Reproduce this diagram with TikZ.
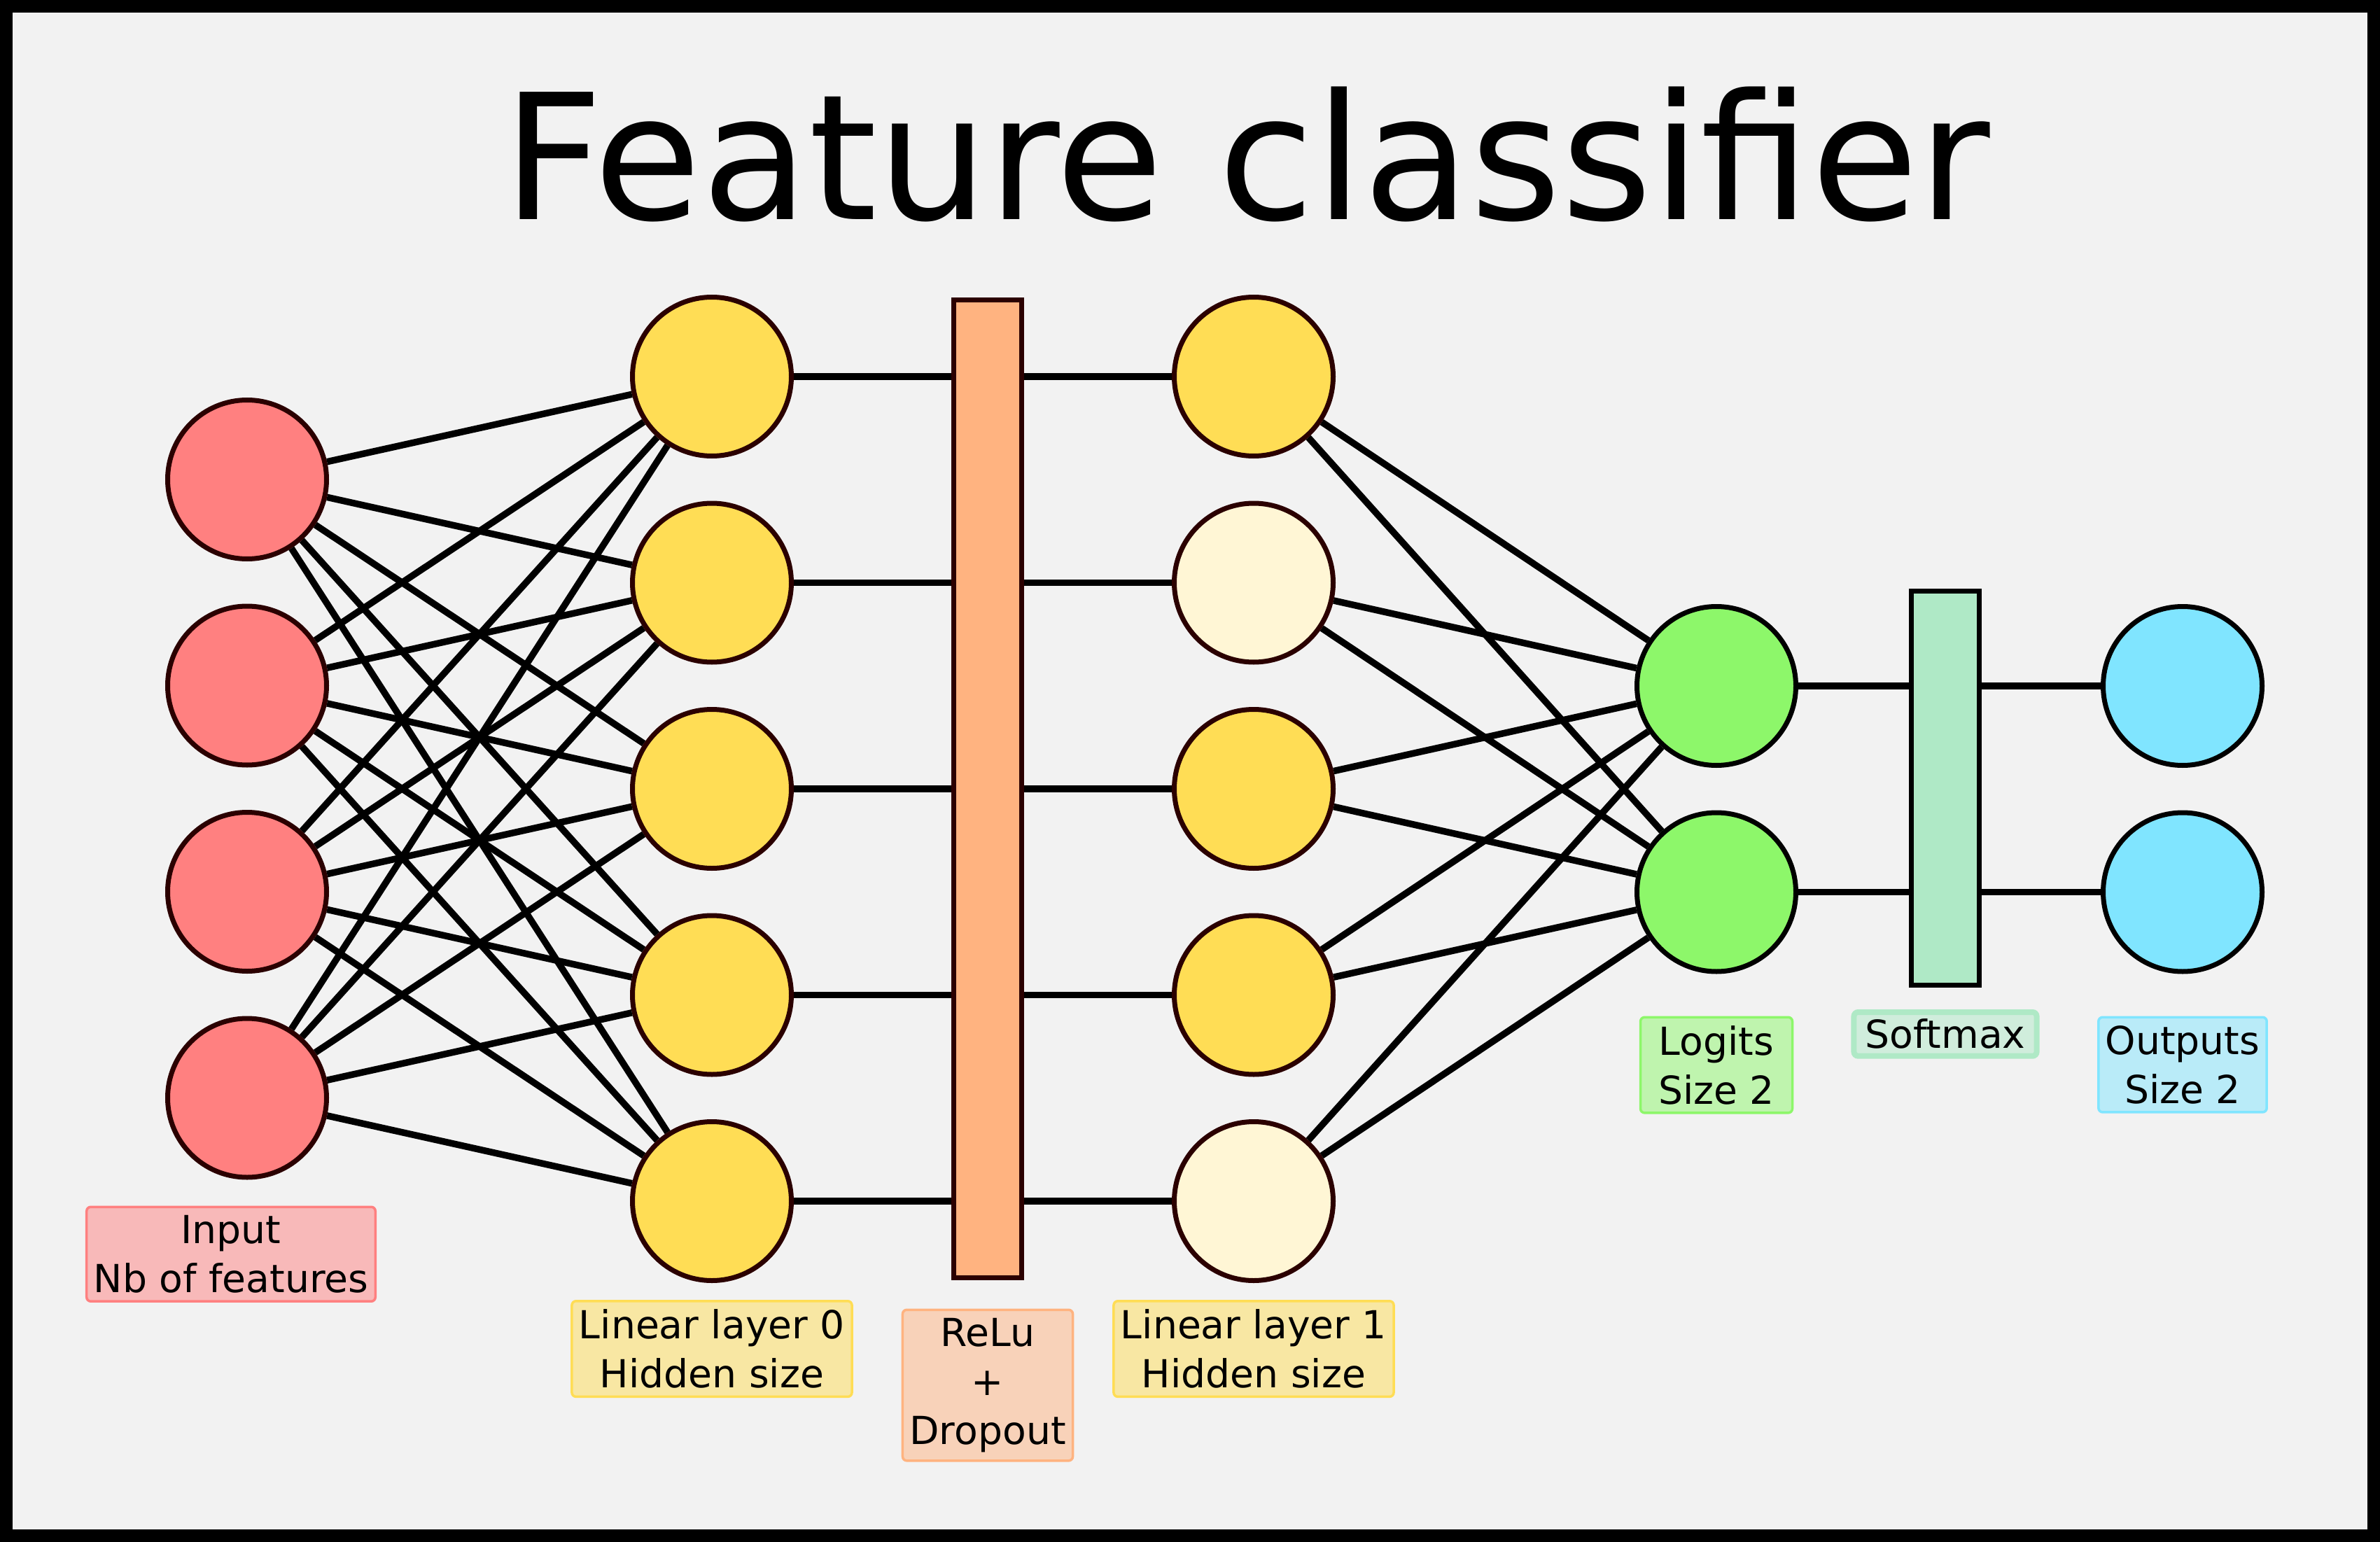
\documentclass[tikz,border=0pt]{standalone}
\usepackage{fontspec}
\setmainfont{DejaVu Sans}
\usetikzlibrary{positioning}

\definecolor{bgc}{HTML}{F2F2F2}
\definecolor{outl}{HTML}{2B0000}
\definecolor{inred}{HTML}{FF8080}
\definecolor{hidy}{HTML}{FFDD55}
\definecolor{hidc}{HTML}{FFF6D5}
\definecolor{relu}{HTML}{FFB380}
\definecolor{logit}{HTML}{8DF76A}
\definecolor{soft}{HTML}{AFE9C6}
\definecolor{outc}{HTML}{80E5FF}

\begin{document}
\begin{tikzpicture}[
  node distance=0.605cm,
  neuron/.style={circle, draw=outl, line width=0.07cm, minimum size=2.27cm, inner sep=0pt},
  bar/.style={rectangle, draw=outl, line width=0.07cm, minimum width=0.97cm, inner sep=0pt},
  lbl/.style={rectangle, rounded corners=0.06cm, line width=0.035cm, align=center, inner xsep=0.1cm, inner ysep=0.12cm, font=\fontsize{15.7}{19.9}\selectfont},
  edge/.style={line width=0.095cm},
]

% Frame
\useasboundingbox (0,0) rectangle (34,-22.03);
\draw[line width=0.18cm, fill=bgc] (0.09,-0.09) rectangle (33.91,-21.94);

% Title
\node[font=\fontsize{71}{85}\selectfont, anchor=base] (title) at (17.81,-3.14) {Feature classifier};

% Input
\node[neuron, fill=inred] (in1) at (3.53,-6.85) {};
\node[neuron, fill=inred, below=of in1] (in2) {};
\node[neuron, fill=inred, below=of in2] (in3) {};
\node[neuron, fill=inred, below=of in3] (in4) {};

% Linear layer 0
\node[neuron, fill=hidy] (la1) at (10.17,-5.38) {};
\node[neuron, fill=hidy, below=of la1] (la2) {};
\node[neuron, fill=hidy, below=of la2] (la3) {};
\node[neuron, fill=hidy, below=of la3] (la4) {};
\node[neuron, fill=hidy, below=of la4] (la5) {};

% ReLu + Dropout
\node[bar, fill=relu, minimum height=13.96cm] (relu) at (14.11,-11.27) {};

% Linear layer 1
\node[neuron, fill=hidy] (lb1) at (17.91,-5.38) {};
\node[neuron, fill=hidc, below=of lb1] (lb2) {};
\node[neuron, fill=hidy, below=of lb2] (lb3) {};
\node[neuron, fill=hidy, below=of lb3] (lb4) {};
\node[neuron, fill=hidc, below=of lb4] (lb5) {};

% Logits, softmax, outputs
\node[neuron, fill=logit, draw=black] (lo1) at (24.52,-9.80) {};
\node[neuron, fill=logit, draw=black, below=of lo1] (lo2) {};
\node[bar, fill=soft, draw=black, minimum height=5.63cm] (soft) at (27.79,-11.26) {};
\node[neuron, fill=outc, draw=black] (out1) at (31.18,-9.80) {};
\node[neuron, fill=outc, draw=black, below=of out1] (out2) {};

% Labels
\node[lbl, draw=inred, fill=inred!50!bgc, below=0.37cm of in4, xshift=-0.23cm] (inlbl) {Input\\Nb of features};
\node[lbl, draw=hidy, fill=hidy!50!bgc, below=0.24cm of la5] (lalbl) {Linear layer 0\\Hidden size};
\node[lbl, draw=relu, fill=relu!50!bgc, below=0.41cm of relu] (relulbl) {ReLu\\+\\Dropout};
\node[lbl, draw=hidy, fill=hidy!50!bgc, below=0.24cm of lb5] (lblbl) {Linear layer 1\\Hidden size};
\node[lbl, draw=logit, fill=logit!50!bgc, minimum width=2.17cm, below=0.6cm of lo2] (lolbl) {Logits\\Size 2};
\node[lbl, draw=soft, fill=soft!50!bgc, line width=0.08cm, inner xsep=0.16cm, inner ysep=0.1cm, below=0.31cm of soft] (softlbl) {Softmax};
\node[lbl, draw=outc, fill=outc!50!bgc, below=0.6cm of out2] (outlbl) {Outputs\\Size 2};

% Connections
\foreach \i in {1,...,4}
  \foreach \j in {1,...,5}
    \draw[edge] (in\i) -- (la\j);
\foreach \i in {1,...,5} {
  \draw[edge] (la\i) -- (la\i -| relu.west);
  \draw[edge] (relu.east |- lb\i) -- (lb\i);
}
\foreach \i in {1,...,5}
  \foreach \j in {1,2}
    \draw[edge] (lb\i) -- (lo\j);
\foreach \i in {1,2} {
  \draw[edge] (lo\i) -- (lo\i -| soft.west);
  \draw[edge] (soft.east |- out\i) -- (out\i);
}

\end{tikzpicture}
\end{document}
